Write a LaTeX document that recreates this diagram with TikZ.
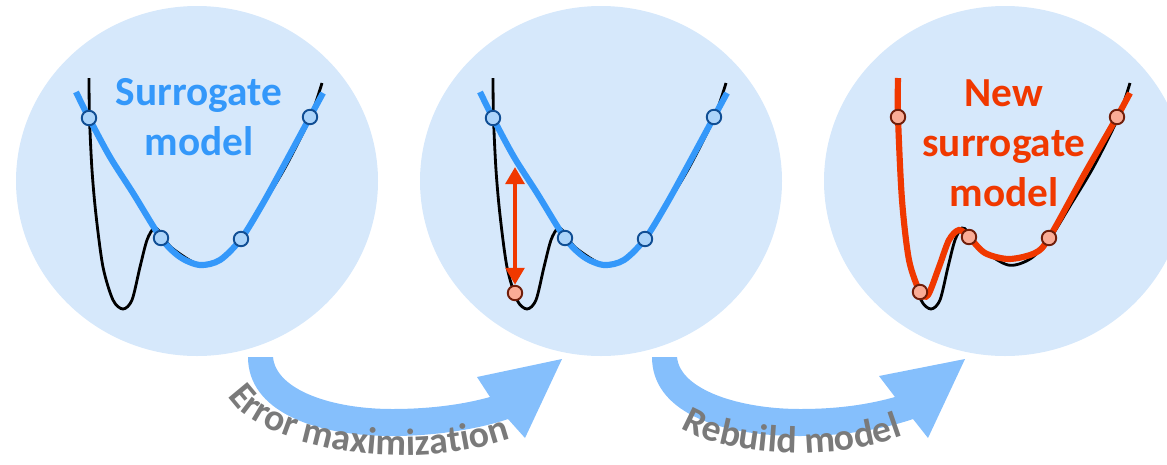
\documentclass[tikz,border=0pt]{standalone}
\usepackage{fontspec}
\setmainfont{Carlito}
\usepackage{xcolor}
\usetikzlibrary{arrows.meta,decorations.text}

\definecolor{bubblefill}{RGB}{214,232,251}
\definecolor{flowfill}{RGB}{133,191,252}
\definecolor{surrblue}{RGB}{52,152,250}
\definecolor{dotblue}{RGB}{172,212,250}
\definecolor{dotblueline}{RGB}{16,78,148}
\definecolor{newred}{RGB}{240,56,0}
\definecolor{dotred}{RGB}{250,172,150}
\definecolor{dotredline}{RGB}{112,30,10}
\definecolor{labelgray}{RGB}{122,122,122}

\begin{document}
\begin{tikzpicture}[x=0.02cm,y=-0.02cm,
  bubble/.style={fill=bubblefill},
  truecurve/.style={black,line width=1.6pt},
  surrcurve/.style={surrblue,line width=3.5pt},
  newcurve/.style={newred,line width=3.5pt},
  bluedot/.style={circle,draw=dotblueline,fill=dotblue,line width=1.1pt,inner sep=0pt,minimum size=0.29cm},
  reddot/.style={circle,draw=dotredline,fill=dotred,line width=1.1pt,inner sep=0pt,minimum size=0.29cm},
  modeltext/.style={align=center,font=\fontsize{23.5pt}{28.5pt}\selectfont\bfseries,inner sep=0pt},
  flowarrow/.style={fill=flowfill},
  errarrow/.style={newred,line width=2.8pt,{Triangle[length=0.34cm,width=0.37cm]}-{Triangle[length=0.34cm,width=0.37cm]}}]
\useasboundingbox (0,0) rectangle (1167,464);
\clip (0,0) rectangle (1167,464);

\fill[bubble] (197,181) ellipse [x radius=181,y radius=175];
\fill[bubble] (601,181) ellipse [x radius=181,y radius=175];
\fill[bubble] (1005,181) ellipse [x radius=181,y radius=175];

\draw[truecurve] plot[smooth] coordinates {(89,78) (89.5,118) (92,170) (96,215) (103,267) (113,300) (123,309) (132,300) (140,267) (147,240) (154,228) (160,232) (172,248) (200,265) (222,259) (241,240) (262,206) (286,166) (310,118) (322,83)};
\draw[surrcurve] plot[smooth] coordinates {(76,92) (89,118) (110,157) (133,193) (161,238) (180,257) (200,265) (220,260) (241,239) (262,205) (283,167) (310,117) (323,93)};
\node[bluedot] (b11) at (89,118) {};
\node[bluedot] (b12) at (161,238) {};
\node[bluedot] (b13) at (241,239) {};
\node[bluedot] (b14) at (310,117) {};
\node[modeltext,text=surrblue] (surr) at (199,117) {Surrogate\\model};

\begin{scope}[shift={(404,0)}]
\draw[truecurve] plot[smooth] coordinates {(89,78) (89.5,118) (92,170) (96,215) (103,267) (113,300) (123,309) (132,300) (140,267) (147,240) (154,228) (160,232) (172,248) (200,265) (222,259) (241,240) (262,206) (286,166) (310,118) (322,83)};
\draw[surrcurve] plot[smooth] coordinates {(76,92) (89,118) (110,157) (133,193) (161,238) (180,257) (200,265) (220,260) (241,239) (262,205) (283,167) (310,117) (323,93)};
\node[bluedot] (b21) at (89,118) {};
\node[bluedot] (b22) at (161,238) {};
\node[bluedot] (b23) at (241,239) {};
\node[bluedot] (b24) at (310,117) {};
\node[reddot] (r21) at (111,293) {};
\coordinate (errtop) at (111,167);
\draw[errarrow] (errtop) -- (r21.north);
\end{scope}

\begin{scope}[shift={(808,0)}]
\draw[truecurve] plot[smooth] coordinates {(89,78) (89.5,118) (92,170) (96,215) (103,267) (113,300) (123,309) (132,300) (140,267) (147,240) (154,228) (160,232) (172,248) (200,265) (222,259) (241,240) (262,206) (286,166) (310,118) (322,83)};
\draw[newcurve] plot[smooth] coordinates {(90,78) (90,117) (94,200) (101,260) (112,292) (120,295) (131,267) (141,240) (151,230) (161,237) (177,253) (201,259) (227,253) (241,238) (277,173) (309,117) (322,93)};
\node[reddot] (r31) at (90,117) {};
\node[reddot] (r32) at (112,292) {};
\node[reddot] (r33) at (161,237) {};
\node[reddot] (r34) at (241,238) {};
\node[reddot] (r35) at (309,117) {};
\node[modeltext,text=newred] (newsurr) at (196,143) {New\\surrogate\\model};
\end{scope}

\fill[flowarrow] (248,357) .. controls (248,410) and (312,436) .. (392,436) .. controls (442,436) and (485,427) .. (508,419) -- (525,438) -- (562,359) -- (477,377) -- (490,397) .. controls (465,404) and (432,409) .. (392,409) .. controls (332,409) and (276,390) .. (273,357) -- cycle;
\fill[flowarrow] (652,357) .. controls (652,410) and (715,436) .. (800,436) .. controls (850,436) and (890,427) .. (913,419) -- (928,438) -- (965,359) -- (879,376) -- (895,397) .. controls (870,404) and (840,409) .. (800,409) .. controls (740,409) and (680,390) .. (677,357) -- cycle;

\path[decorate,decoration={text along path,text color=labelgray,
  text={|\fontsize{21.5pt}{24pt}\selectfont\bfseries|Error maximization}}]
  (228,396) .. controls (252,442) and (400,480) .. (518,436);
\path[decorate,decoration={text along path,text color=labelgray,
  text={|\fontsize{21.5pt}{24pt}\selectfont\bfseries|Rebuild model}}]
  (681,428) .. controls (725,456) and (835,464) .. (910,433);
\end{tikzpicture}
\end{document}
